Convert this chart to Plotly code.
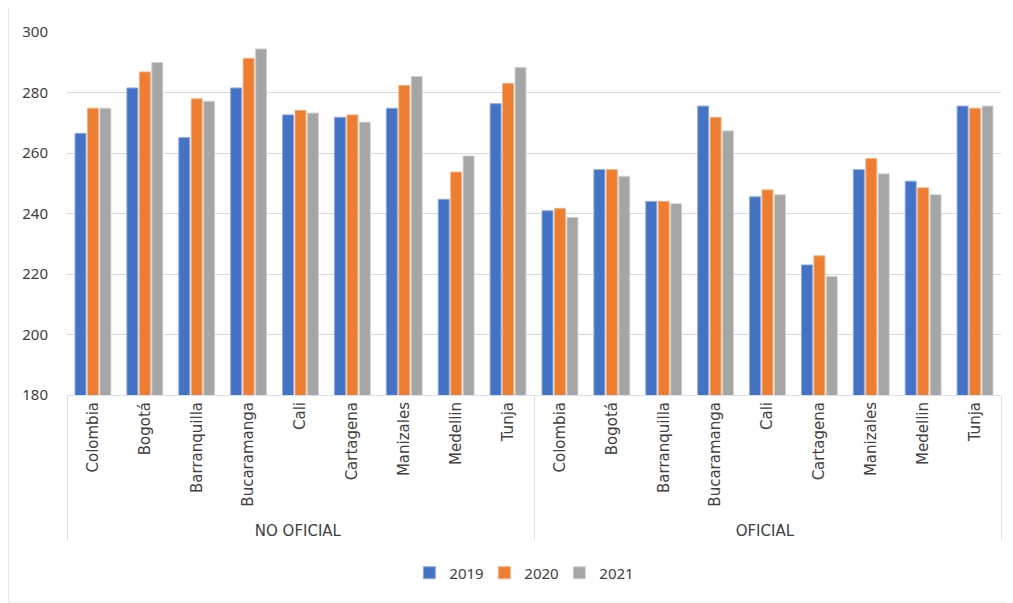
import plotly.graph_objects as go

groups = ["NO OFICIAL"] * 9 + ["OFICIAL"] * 9
cities = ["Colombia", "Bogotá", "Barranquilla", "Bucaramanga", "Cali",
          "Cartagena", "Manizales", "Medellin", "Tunja"] * 2

years = ["2019", "2020", "2021"]
v2019 = [266.5, 281.5, 265.1, 281.5, 272.6, 271.8, 274.8, 244.7, 276.3,
         240.9, 254.5, 244.0, 275.5, 245.5, 223.0, 254.5, 250.7, 275.5]
v2020 = [274.8, 286.8, 277.9, 291.3, 274.1, 272.6, 282.3, 253.7, 283.0,
         241.7, 254.5, 244.0, 271.8, 247.8, 226.0, 258.2, 248.5, 274.8]
v2021 = [274.8, 289.9, 277.1, 294.4, 273.2, 270.2, 285.3, 259.0, 288.3,
         238.7, 252.3, 243.2, 267.3, 246.2, 219.2, 253.1, 246.2, 275.5]

colors = ["#4472C4", "#ED7D31", "#A5A5A5"]
edge = ["#8FAADC", "#F4B183", "#D0D0D0"]

fig = go.Figure()
for name, vals, c, e in zip(years, [v2019, v2020, v2021], colors, edge):
    fig.add_trace(go.Bar(
        x=[groups, cities], y=vals, name=name,
        marker=dict(color=c, line=dict(color=e, width=1)),
    ))

W, H = 1005, 595
L, R, T, B = 59, 12, 24, 208
pw, ph = W - L - R, H - T - B

fig.update_layout(
    width=W, height=H,
    barmode="group", bargap=0.28, bargroupgap=0.12,
    plot_bgcolor="white", paper_bgcolor="white",
    margin=dict(l=L, r=R, t=T, b=B),
    font=dict(family="DejaVu Sans", size=15, color="#404040"),
    legend=dict(orientation="h", x=0.487, xanchor="center", y=-(565 - 387) / ph,
                yanchor="middle", font=dict(family="Noto Sans", size=15, color="#404040"),
                traceorder="normal", entrywidth=30, entrywidthmode="pixels"),
    shapes=[dict(type="rect", xref="paper", yref="paper",
                 x0=-L / pw + 0.0005, x1=1 + R / pw - 0.001,
                 y0=-B / ph + 0.001, y1=1 + T / ph + 0.002,
                 line=dict(color="#EBEBEB", width=1))],
)
fig.update_yaxes(range=[180, 300], dtick=20, showgrid=True,
                 gridcolor="#D9D9D9", gridwidth=1, zeroline=False,
                 showline=False,
                 tickfont=dict(family="Noto Sans", size=15, color="#404040"),
                 ticks="", ticklabelstandoff=18)
fig.update_xaxes(type="multicategory", tickangle=-90, showline=True,
                 linecolor="#D9E1F0", linewidth=1, showdividers=True,
                 dividercolor="#D9DEE8", dividerwidth=1, automargin=False,
                 tickfont=dict(family="DejaVu Sans", size=15, color="#404040"),
                 ticks="")

fig.write_html("out.html")
